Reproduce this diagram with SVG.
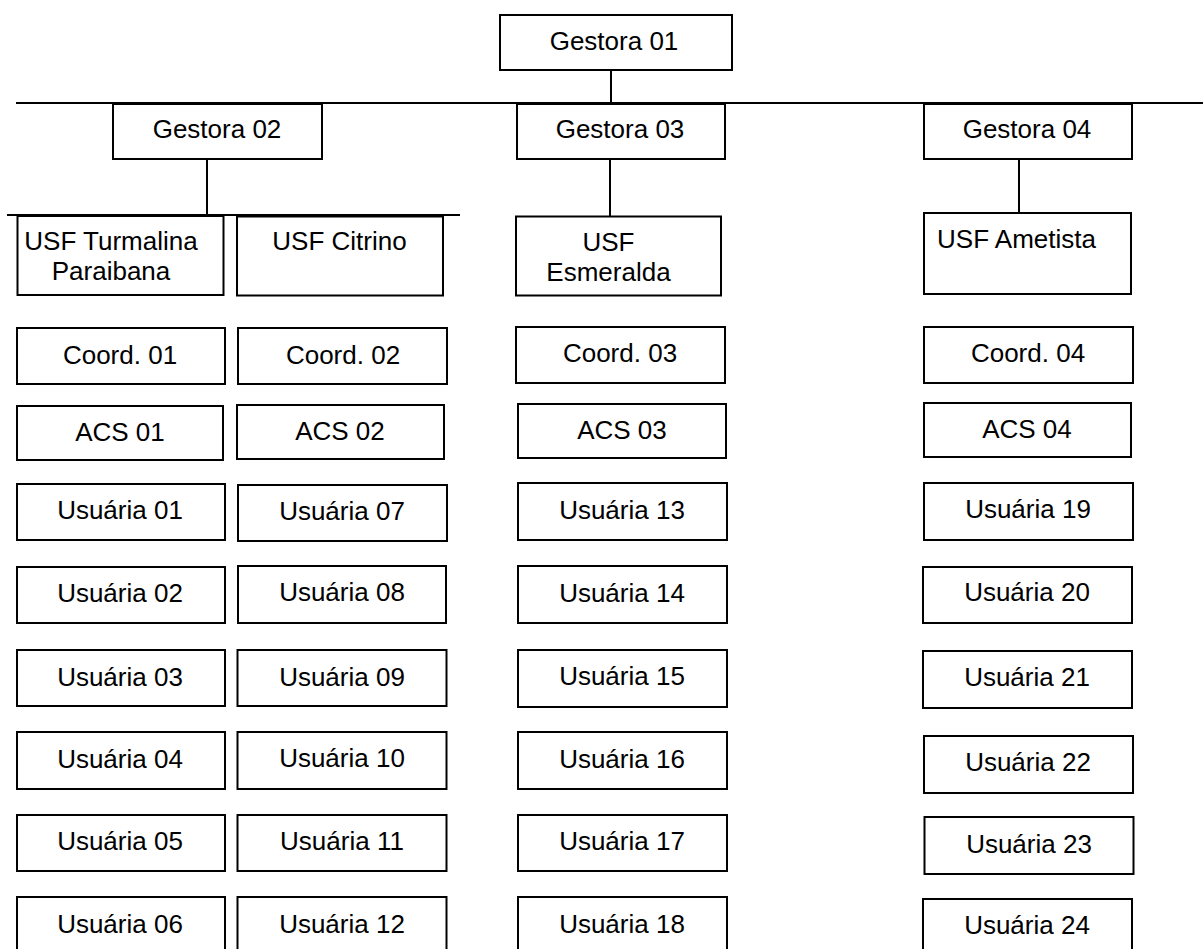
<svg xmlns="http://www.w3.org/2000/svg" width="1203" height="949" viewBox="0 0 1203 949">
<style>
rect{fill:#fff;stroke:#000;stroke-width:2}
line{stroke:#000;stroke-width:2}
text{font-family:"Liberation Sans",Arial,sans-serif;font-size:26px;fill:#000;text-anchor:middle}
</style>
<rect x="0" y="0" width="1203" height="949" style="stroke:none"/>
<g id="connectors">
<line x1="611" y1="70" x2="611" y2="103"/>
<line x1="16" y1="103" x2="1203" y2="103"/>
<line x1="207" y1="159" x2="207" y2="215"/>
<line x1="7" y1="215" x2="460" y2="215"/>
<line x1="610" y1="159" x2="610" y2="216"/>
<line x1="1019" y1="159" x2="1019" y2="213"/>
</g>
<g id="gestora01"><rect x="500" y="15" width="232" height="55"/><text x="614" y="50">Gestora 01</text></g>
<g id="gestora02"><rect x="113" y="104" width="209" height="55"/><text x="217" y="138">Gestora 02</text></g>
<g id="gestora03"><rect x="517" y="104" width="208" height="55"/><text x="620" y="138">Gestora 03</text></g>
<g id="gestora04"><rect x="924" y="104" width="208" height="55"/><text x="1027" y="138">Gestora 04</text></g>
<g id="usf-turmalina"><rect x="17.5" y="216" width="206" height="79"/><text x="111" y="250">USF Turmalina</text><text x="111" y="280">Paraibana</text></g>
<g id="usf-citrino"><rect x="237" y="216.5" width="206" height="79"/><text x="339.5" y="250">USF Citrino</text></g>
<g id="usf-esmeralda"><rect x="516" y="216.5" width="205" height="79"/><text x="608.5" y="251">USF</text><text x="608.5" y="281">Esmeralda</text></g>
<g id="usf-ametista"><rect x="924" y="213" width="207" height="81"/><text x="1016.5" y="248">USF Ametista</text></g>

<g id="coord01"><rect x="17" y="328" width="208" height="56"/><text x="120" y="364">Coord. 01</text></g>
<g id="coord02"><rect x="238" y="328" width="209" height="56"/><text x="343" y="364">Coord. 02</text></g>
<g id="coord03"><rect x="516" y="327" width="209" height="56"/><text x="620" y="362">Coord. 03</text></g>
<g id="coord04"><rect x="924" y="327" width="209" height="56"/><text x="1028" y="362">Coord. 04</text></g>

<g id="acs01"><rect x="17" y="406" width="206" height="54"/><text x="120" y="441">ACS 01</text></g>
<g id="acs02"><rect x="237" y="405" width="207" height="54"/><text x="340" y="440">ACS 02</text></g>
<g id="acs03"><rect x="518" y="404" width="208" height="54"/><text x="622" y="439">ACS 03</text></g>
<g id="acs04"><rect x="924" y="403" width="207" height="54"/><text x="1027" y="438">ACS 04</text></g>

<g id="u01"><rect x="17" y="484" width="208" height="56"/><text x="120" y="519">Usuária 01</text></g>
<g id="u02"><rect x="17" y="567" width="208" height="56"/><text x="120" y="602">Usuária 02</text></g>
<g id="u03"><rect x="17" y="650" width="208" height="56"/><text x="120" y="686">Usuária 03</text></g>
<g id="u04"><rect x="17" y="732" width="208" height="57"/><text x="120" y="768">Usuária 04</text></g>
<g id="u05"><rect x="17" y="815" width="208" height="56"/><text x="120" y="850">Usuária 05</text></g>
<g id="u06"><rect x="17" y="897" width="208" height="58"/><text x="120" y="933">Usuária 06</text></g>

<g id="u07"><rect x="238" y="485" width="209" height="56"/><text x="342" y="520">Usuária 07</text></g>
<g id="u08"><rect x="238" y="566" width="208" height="57"/><text x="342" y="601">Usuária 08</text></g>
<g id="u09"><rect x="237.5" y="650" width="209" height="56"/><text x="342" y="686">Usuária 09</text></g>
<g id="u10"><rect x="237.5" y="732" width="209" height="57"/><text x="342" y="767">Usuária 10</text></g>
<g id="u11"><rect x="237.5" y="815" width="209" height="56"/><text x="342" y="850">Usuária 11</text></g>
<g id="u12"><rect x="237.5" y="897" width="209" height="58"/><text x="342" y="933">Usuária 12</text></g>

<g id="u13"><rect x="518" y="483" width="209" height="57"/><text x="622" y="519">Usuária 13</text></g>
<g id="u14"><rect x="518" y="566" width="209" height="57"/><text x="622" y="602">Usuária 14</text></g>
<g id="u15"><rect x="518" y="650" width="209" height="57"/><text x="622" y="685">Usuária 15</text></g>
<g id="u16"><rect x="518" y="732" width="209" height="57"/><text x="622" y="768">Usuária 16</text></g>
<g id="u17"><rect x="518" y="815" width="209" height="56"/><text x="622" y="850">Usuária 17</text></g>
<g id="u18"><rect x="518" y="897" width="209" height="58"/><text x="622" y="933">Usuária 18</text></g>

<g id="u19"><rect x="924" y="483" width="209" height="57"/><text x="1028" y="518">Usuária 19</text></g>
<g id="u20"><rect x="923" y="567" width="209" height="56"/><text x="1027" y="601">Usuária 20</text></g>
<g id="u21"><rect x="923" y="651" width="209" height="57"/><text x="1027" y="686">Usuária 21</text></g>
<g id="u22"><rect x="924" y="736" width="209" height="57"/><text x="1028" y="771">Usuária 22</text></g>
<g id="u23"><rect x="924.5" y="817" width="209" height="57"/><text x="1029" y="853">Usuária 23</text></g>
<g id="u24"><rect x="923" y="899" width="209" height="58"/><text x="1027" y="934">Usuária 24</text></g>
</svg>
